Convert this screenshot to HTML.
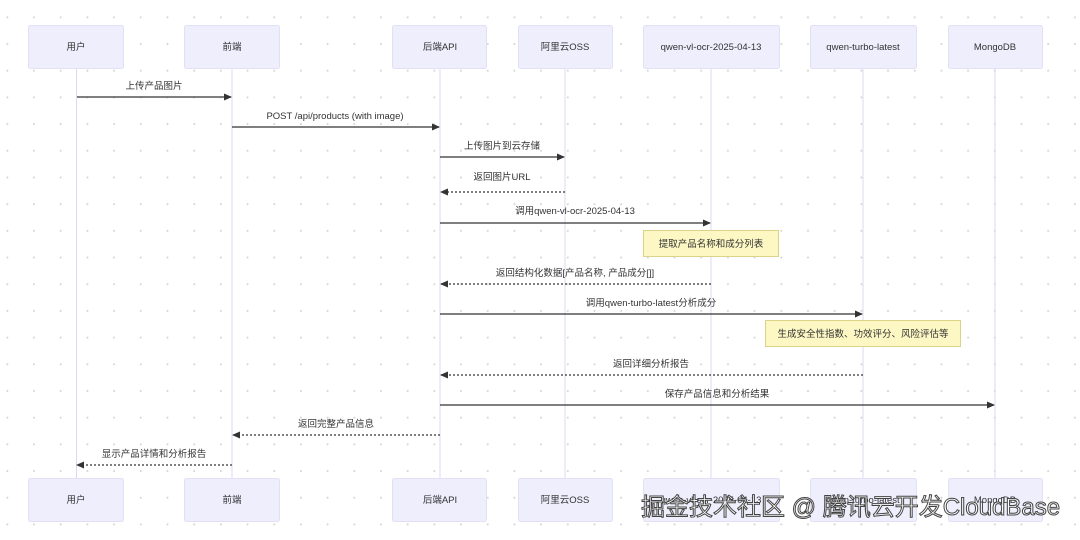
<!DOCTYPE html>
<html><head><meta charset="utf-8"><style>
html,body{margin:0;padding:0;background:#fff;}
body{width:1080px;height:540px;overflow:hidden;position:relative;
background-image:radial-gradient(circle,#d6d6d6 0.8px,transparent 1.2px);background-size:26.7px 26.7px;background-position:-6px 4px;}
svg{position:absolute;left:0;top:0;}
text{font-family:"Liberation Sans","Noto Sans CJK SC",sans-serif;font-size:9.5px;fill:#333;}
.wm{position:absolute;left:641px;top:493px;font-family:"Liberation Sans","Noto Sans CJK SC",sans-serif;font-size:24px;line-height:30px;color:#fff;-webkit-text-stroke:1px #444;white-space:nowrap;}
</style></head><body>
<svg width="1080" height="540" viewBox="0 0 1080 540">
<defs>
<marker id="a" markerWidth="8" markerHeight="8" refX="7" refY="4" orient="auto" markerUnits="userSpaceOnUse"><path d="M0,0.5 L8,4 L0,7.5 z" fill="#333"/></marker>
</defs>
<g stroke="#dcd8f2" stroke-width="1">
<line x1="76.5" y1="69" x2="76.5" y2="478"/>
<line x1="232" y1="69" x2="232" y2="478"/>
<line x1="440" y1="69" x2="440" y2="478"/>
<line x1="565" y1="69" x2="565" y2="478"/>
<line x1="711" y1="69" x2="711" y2="478"/>
<line x1="863" y1="69" x2="863" y2="478"/>
<line x1="995" y1="69" x2="995" y2="478"/>
</g>
<g fill="#eeeefc" stroke="#e2e0f5">
<rect x="28.5" y="25.5" width="95" height="43" rx="2"/>
<rect x="184.5" y="25.5" width="95" height="43" rx="2"/>
<rect x="392.5" y="25.5" width="94" height="43" rx="2"/>
<rect x="518.5" y="25.5" width="94" height="43" rx="2"/>
<rect x="643.5" y="25.5" width="136" height="43" rx="2"/>
<rect x="810.5" y="25.5" width="106" height="43" rx="2"/>
<rect x="948.5" y="25.5" width="94" height="43" rx="2"/>
<rect x="28.5" y="478.5" width="95" height="43" rx="2"/>
<rect x="184.5" y="478.5" width="95" height="43" rx="2"/>
<rect x="392.5" y="478.5" width="94" height="43" rx="2"/>
<rect x="518.5" y="478.5" width="94" height="43" rx="2"/>
<rect x="643.5" y="478.5" width="136" height="43" rx="2"/>
<rect x="810.5" y="478.5" width="106" height="43" rx="2"/>
<rect x="948.5" y="478.5" width="94" height="43" rx="2"/>
</g>
<g text-anchor="middle">
<text x="76" y="50">用户</text><text x="232" y="50">前端</text><text x="440" y="50">后端API</text><text x="565" y="50">阿里云OSS</text><text x="711" y="50">qwen-vl-ocr-2025-04-13</text><text x="863" y="50">qwen-turbo-latest</text><text x="995" y="50">MongoDB</text>
<text x="76" y="503">用户</text><text x="232" y="503">前端</text><text x="440" y="503">后端API</text><text x="565" y="503">阿里云OSS</text><text x="711" y="503">qwen-vl-ocr-2025-04-13</text><text x="863" y="503">qwen-turbo-latest</text><text x="995" y="503">MongoDB</text>
</g>
<rect x="643.5" y="230.5" width="135" height="26" fill="#fdf8c3" stroke="#dcd38a"/>
<rect x="765.5" y="320.5" width="195" height="26" fill="#fdf8c3" stroke="#dcd38a"/>
<g text-anchor="middle">
<text x="711" y="247">提取产品名称和成分列表</text>
<text x="863" y="337">生成安全性指数、功效评分、风险评估等</text>
</g>
<g stroke="#333" stroke-width="1.2" fill="none">
<line x1="77" y1="97" x2="231" y2="97" marker-end="url(#a)"/>
<line x1="232" y1="127" x2="439" y2="127" marker-end="url(#a)"/>
<line x1="440" y1="157" x2="564" y2="157" marker-end="url(#a)"/>
<line x1="565" y1="192" x2="441" y2="192" stroke-dasharray="2,2" marker-end="url(#a)"/>
<line x1="440" y1="223" x2="710" y2="223" marker-end="url(#a)"/>
<line x1="711" y1="284" x2="441" y2="284" stroke-dasharray="2,2" marker-end="url(#a)"/>
<line x1="440" y1="314" x2="862" y2="314" marker-end="url(#a)"/>
<line x1="863" y1="375" x2="441" y2="375" stroke-dasharray="2,2" marker-end="url(#a)"/>
<line x1="440" y1="405" x2="994" y2="405" marker-end="url(#a)"/>
<line x1="440" y1="435" x2="233" y2="435" stroke-dasharray="2,2" marker-end="url(#a)"/>
<line x1="232" y1="465" x2="77" y2="465" stroke-dasharray="2,2" marker-end="url(#a)"/>
</g>
<g text-anchor="middle">
<text x="154" y="89">上传产品图片</text>
<text x="335" y="119">POST /api/products (with image)</text>
<text x="502" y="149">上传图片到云存储</text>
<text x="502" y="180">返回图片URL</text>
<text x="575" y="214">调用qwen-vl-ocr-2025-04-13</text>
<text x="575" y="276">返回结构化数据[产品名称, 产品成分[]]</text>
<text x="651" y="306">调用qwen-turbo-latest分析成分</text>
<text x="651" y="367">返回详细分析报告</text>
<text x="717" y="397">保存产品信息和分析结果</text>
<text x="336" y="427">返回完整产品信息</text>
<text x="154" y="457">显示产品详情和分析报告</text>
</g>
</svg>
<div class="wm">掘金技术社区 @ 腾讯云开发CloudBase</div>
</body></html>
